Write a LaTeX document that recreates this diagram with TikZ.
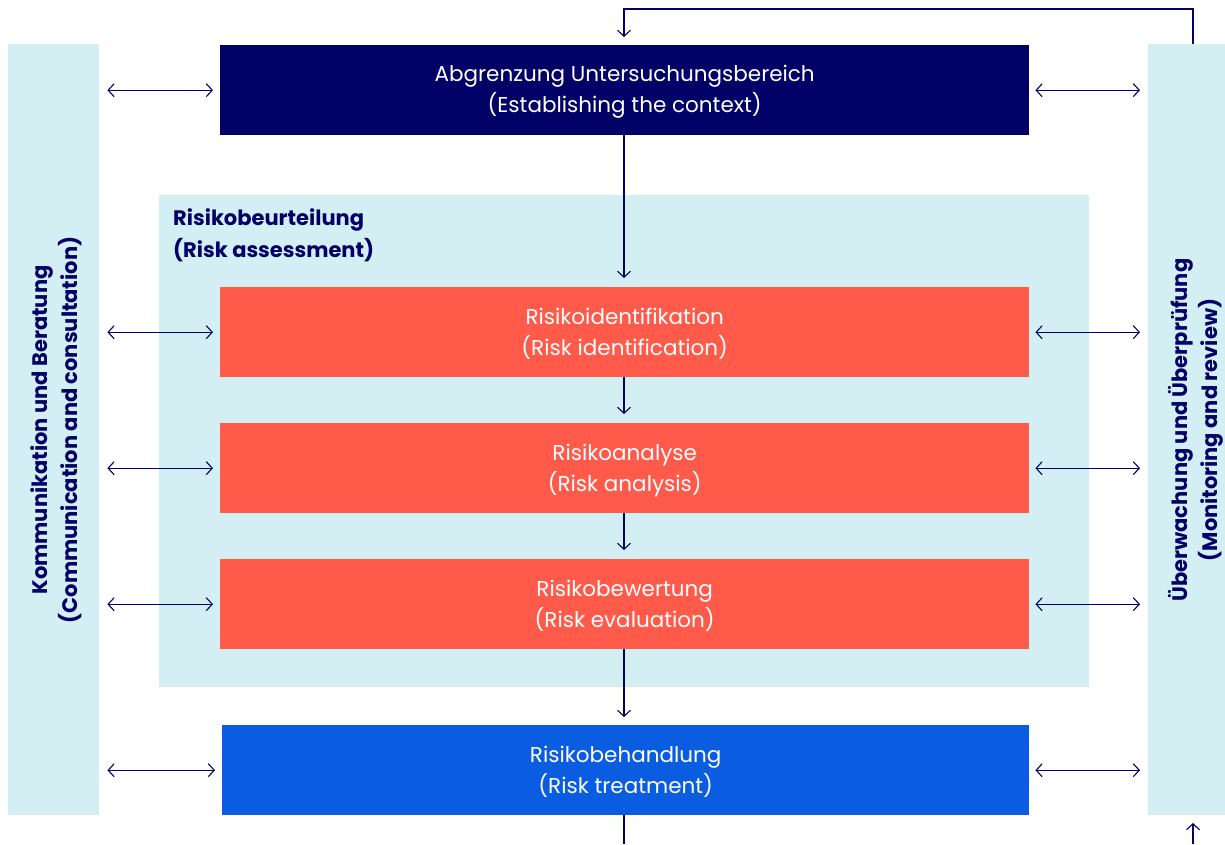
\documentclass[tikz,border=0pt]{standalone}
\usepackage{fontspec}
\setmainfont{Poppins}
\usetikzlibrary{arrows.meta}
\definecolor{navy}{HTML}{000066}
\definecolor{lightc}{HTML}{D4EFF3}
\definecolor{redb}{HTML}{FF5A4A}
\definecolor{blueb}{HTML}{0A5CE0}
\tikzset{
  tip/.tip={Straight Barb[length=6pt,width=13pt,line width=1.1pt]},
  box/.style={draw=none, minimum width=809pt, minimum height=90pt, inner sep=0pt, text=white, align=center, font=\fontsize{21.5}{31}\selectfont, anchor=north west},
  boxtext/.style={text=white, align=center, font=\fontsize{21.5}{31}\selectfont, inner sep=0pt},
  bar/.style={fill=lightc, draw=none},
  conn/.style={draw=navy, line width=1.1pt, -tip},
  dconn/.style={draw=navy, line width=1.1pt, tip-tip},
  sidelbl/.style={text=navy, align=center, font=\bfseries\fontsize{21}{30}\selectfont, rotate=90}
}
\begin{document}
\begin{tikzpicture}[x=1pt,y=-1pt]
\useasboundingbox (0,0) rectangle (1225,844);
\fill[white] (0,0) rectangle (1225,844);
% side bars
\node[bar, minimum width=91pt, minimum height=771pt, anchor=north west, inner sep=0pt] (left) at (8,44) {};
\node[bar, minimum width=77pt, minimum height=771pt, anchor=north west, inner sep=0pt] (right) at (1148,44) {};
\node[sidelbl] (leftlbl) at (56,430) {Kommunikation und Beratung\\(Communication and consultation)};
\node[sidelbl] (rightlbl) at (1196,430) {Überwachung und Überprüfung\\(Monitoring and review)};
% assessment region
\node[bar, minimum width=930pt, minimum height=492pt, anchor=north west, inner sep=0pt] (assess) at (159,195) {};
\node[text=navy, anchor=north west, align=left, inner sep=0pt, font=\bfseries\fontsize{21}{32}\selectfont] (assesslbl) at (173,208) {Risikobeurteilung\\(Risk assessment)};
% boxes
\node[box, fill=navy] (ctx) at (220,45) {};
\node[box, fill=redb] (ident) at (220,287) {};
\node[box, fill=redb] (anal) at (220,423) {};
\node[box, fill=redb] (eval) at (220,559) {};
\node[box, fill=blueb, minimum width=807pt] (treat) at (222,725) {};
\node[boxtext] (ctxt) at ([yshift=-2pt]ctx.center) {Abgrenzung Untersuchungsbereich\\(Establishing the context)};
\node[boxtext] (identt) at ([yshift=-2pt]ident.center) {Risikoidentifikation\\(Risk identification)};
\node[boxtext] (analt) at ([yshift=-2pt]anal.center) {Risikoanalyse\\(Risk analysis)};
\node[boxtext] (evalt) at ([yshift=-2pt]eval.center) {Risikobewertung\\(Risk evaluation)};
\node[boxtext] (treatt) at ([yshift=-2pt]treat.center) {Risikobehandlung\\(Risk treatment)};
% vertical flow
\coordinate (x) at (624,0);
\draw[conn] (ctx.south -| x) -- ([yshift=9pt]ident.north -| x);
\draw[conn] (ident.south -| x) -- ([yshift=9pt]anal.north -| x);
\draw[conn] (anal.south -| x) -- ([yshift=9pt]eval.north -| x);
\draw[conn] (eval.south -| x) -- ([yshift=8pt]treat.north -| x);
\coordinate (bottomend) at (624,844);
\draw[draw=navy, line width=1.1pt] (treat.south -| x) -- (bottomend);
% feedback loop
\coordinate (fbtop) at (1193,9);
\coordinate (fbbot) at (1193,844);
\coordinate (fbarr) at (1193,823);
\draw[conn] (right.north -| fbtop) -- (fbtop) -- (fbtop -| x) -- ([yshift=8pt]ctx.north -| x);
\draw[conn] (fbbot) -- (fbarr);
% horizontal double arrows
\foreach \n in {ctx,ident,anal,eval,treat}{
  \draw[dconn] ([xshift=8pt]left.east |- \n.west) -- ([xshift=-7pt]\n.west);
  \draw[dconn] ([xshift=6pt]\n.east) -- ([xshift=-8pt]right.west |- \n.east);
}
\end{tikzpicture}
\end{document}
